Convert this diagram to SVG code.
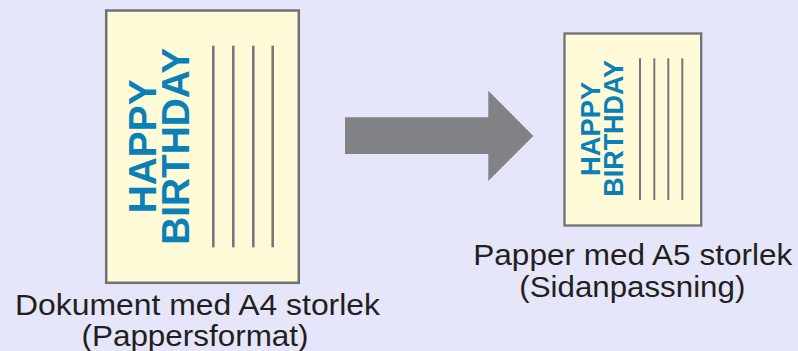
<svg xmlns="http://www.w3.org/2000/svg" width="798" height="351" viewBox="0 0 798 351">
  <style>
    .page { fill: #fffbd8; stroke: #707174; }
    .rule { stroke: #77787b; fill: none; }
    .hb { font-family: "Liberation Sans", Arial, sans-serif; font-weight: bold; fill: #0a80b6; text-anchor: middle; }
    .cap { font-family: "Liberation Sans", Arial, sans-serif; font-size: 29.5px; fill: #231f20; text-anchor: middle; }
  </style>
  <rect width="798" height="351" fill="#e6e6fb"/>
  <g id="page-a4">
    <rect class="page" x="106.2" y="10.5" width="192.6" height="272.3" stroke-width="2.5"/>
    <g class="rule" stroke-width="2.6">
      <line x1="213.3" y1="45.7" x2="213.3" y2="247.3"/>
      <line x1="233.3" y1="45.7" x2="233.3" y2="247.3"/>
      <line x1="253.3" y1="45.7" x2="253.3" y2="247.3"/>
      <line x1="272.7" y1="45.7" x2="272.7" y2="247.3"/>
    </g>
    <text class="hb" font-size="39" transform="translate(155.7,146.3) rotate(-90)" x="0" y="0" textLength="134" lengthAdjust="spacingAndGlyphs">HAPPY</text>
    <text class="hb" font-size="39" transform="translate(189.3,146.3) rotate(-90)" x="0" y="0" textLength="197" lengthAdjust="spacingAndGlyphs">BIRTHDAY</text>
  </g>
  <g id="label-a4">
    <text class="cap" x="197.5" y="315" textLength="365" lengthAdjust="spacingAndGlyphs">Dokument med A4 storlek</text>
    <text class="cap" x="195" y="346" textLength="227" lengthAdjust="spacingAndGlyphs">(Pappersformat)</text>
  </g>
  <g id="page-a5">
    <rect class="page" x="564.5" y="33.5" width="136.7" height="192" stroke-width="2.3"/>
    <g class="rule" stroke-width="2">
      <line x1="640" y1="58.3" x2="640" y2="200"/>
      <line x1="654.3" y1="58.3" x2="654.3" y2="200"/>
      <line x1="668.3" y1="58.3" x2="668.3" y2="200"/>
      <line x1="682.3" y1="58.3" x2="682.3" y2="200"/>
    </g>
    <text class="hb" font-size="27.5" transform="translate(600,128.8) rotate(-90)" x="0" y="0" textLength="94.3" lengthAdjust="spacingAndGlyphs">HAPPY</text>
    <text class="hb" font-size="27.5" transform="translate(623.4,128.4) rotate(-90)" x="0" y="0" textLength="136.7" lengthAdjust="spacingAndGlyphs">BIRTHDAY</text>
  </g>
  <g id="label-a5">
    <text class="cap" x="632.8" y="265" textLength="319" lengthAdjust="spacingAndGlyphs">Papper med A5 storlek</text>
    <text class="cap" x="632.3" y="297" textLength="226" lengthAdjust="spacingAndGlyphs">(Sidanpassning)</text>
  </g>
  <g id="connectors">
    <polygon points="345,117.3 488.3,117.3 488.3,90.7 533.3,136 488.3,181 488.3,154 345,154" fill="#808285"/>
  </g>
</svg>
